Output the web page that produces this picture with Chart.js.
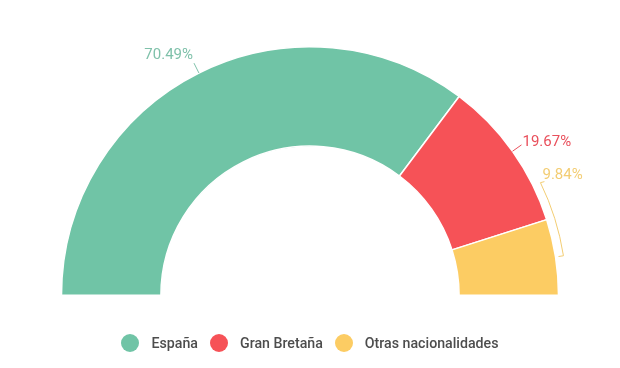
<!DOCTYPE html>
<html>
<head>
<meta charset="utf-8">
<script src="https://cdn.jsdelivr.net/npm/chart.js@4"></script>
<style>
  body { margin: 0; background: #fff; font-family: Roboto, sans-serif; }
  #wrap { position: relative; width: 620px; height: 368px; }
  #legend { position: absolute; left: 0; top: 334px; width: 620px; display: flex; justify-content: center; align-items: center; font-size: 14.2px; font-weight: 500; color: #4d4d4d; }
  .item { display: flex; align-items: center; margin: 0 6px; }
  .dot { width: 18px; height: 18px; border-radius: 50%; margin-right: 12px; }
</style>
</head>
<body>
<div id="wrap">
  <canvas id="pie" width="620" height="368"></canvas>
  <div id="legend"></div>
</div>
<script>
// data
const categories = ['España', 'Gran Bretaña', 'Otras nacionalidades'];
const shares = [70.49, 19.67, 9.84];
const sliceColors = ['#70c4a6', '#f65257', '#fccc63'];
const labelColors = ['#7fc1aa', '#e9505c', '#f3cd73'];

// legend (html)
const legendEl = document.getElementById('legend');
categories.forEach((name, i) => {
    const item = document.createElement('div');
    item.className = 'item';
    item.innerHTML = '<span class="dot" style="background:' + sliceColors[i] + '"></span><span>' + name + '</span>';
    legendEl.appendChild(item);
});

// outside labels with leader lines
const outsideLabels = {
    id: 'outsideLabels',
    afterDatasetsDraw(chart) {
        const ctx = chart.ctx;
        const arcs = chart.getDatasetMeta(0).data;
        ctx.save();
        ctx.font = '15px Roboto, sans-serif';
        ctx.lineWidth = 1;
        arcs.forEach((arc, i) => {
            const p = arc.getProps(['x', 'y', 'startAngle', 'endAngle', 'outerRadius'], true);
            const mid = (p.startAngle + p.endAngle) / 2;
            const cos = Math.cos(mid), sin = Math.sin(mid);
            const ax = p.x + cos * p.outerRadius, ay = p.y + sin * p.outerRadius;
            const text = shares[i].toFixed(2) + '%';
            ctx.strokeStyle = labelColors[i];
            ctx.fillStyle = labelColors[i];
            ctx.textBaseline = 'middle';
            if (i === 2) {
                // curved bracket following the slice edge up to the label
                const r = p.outerRadius + 8;
                const top = mid - 0.30;
                ctx.beginPath();
                ctx.moveTo(p.x + cos * (p.outerRadius + 3), p.y + sin * (p.outerRadius + 3));
                ctx.lineTo(p.x + cos * r, p.y + sin * r);
                ctx.arc(p.x, p.y, r, mid, top, true);
                ctx.lineTo(p.x + Math.cos(top) * r + 4, p.y + Math.sin(top) * r - 1);
                ctx.stroke();
                ctx.textAlign = 'left';
                ctx.fillText(text, p.x + Math.cos(top) * r + 2, p.y + Math.sin(top) * r - 7);
                return;
            }
            const ex = ax + cos * 11, ey = ay + sin * 11;
            ctx.beginPath();
            ctx.moveTo(ax, ay);
            ctx.lineTo(ex, ey);
            ctx.stroke();
            if (cos < 0) {
                ctx.textAlign = 'right';
                ctx.fillText(text, ex - 1, ey - 8);
            } else {
                ctx.textAlign = 'left';
                ctx.fillText(text, ex + 1, ey - 3);
            }
        });
        ctx.restore();
    }
};

new Chart(document.getElementById('pie').getContext('2d'), {
    type: 'doughnut',
    data: {
        labels: categories,
        datasets: [{
            data: shares,
            backgroundColor: sliceColors,
            borderColor: '#ffffff',
            borderWidth: 1.5
        }]
    },
    options: {
        responsive: false,
        animation: false,
        rotation: -90,
        circumference: 180,
        cutout: '60%',
        layout: { padding: { left: 60, right: 60, top: 46, bottom: 72 } },
        plugins: {
            legend: { display: false },
            tooltip: { enabled: false }
        }
    },
    plugins: [outsideLabels]
});
</script>
</body>
</html>
